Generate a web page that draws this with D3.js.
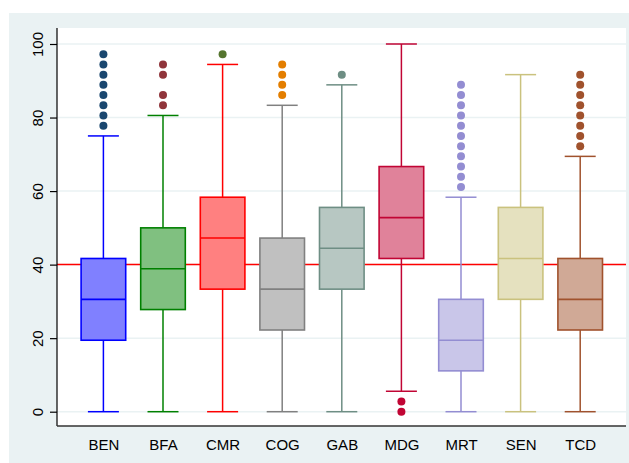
<!DOCTYPE html>
<html><head><meta charset="utf-8">
<script src="https://cdn.jsdelivr.net/npm/d3@7/dist/d3.min.js"></script>
<style>html,body{margin:0;padding:0;background:#fff;}svg{display:block;}</style>
</head><body>
<script>
const categories = ["BEN","BFA","CMR","COG","GAB","MDG","MRT","SEN","TCD"];
const whiskerLow  = [0, 0, 0, 0, 0, 5.56, 0, 0, 0];
const q1          = [19.44, 27.78, 33.33, 22.22, 33.33, 41.67, 11.11, 30.56, 22.22];
const median      = [30.56, 38.89, 47.22, 33.33, 44.44, 52.78, 19.44, 41.67, 30.56];
const q3          = [41.67, 50.00, 58.33, 47.22, 55.56, 66.67, 30.56, 55.56, 41.67];
const whiskerHigh = [75.00, 80.56, 94.44, 83.33, 88.89, 100, 58.33, 91.67, 69.44];
const outliers = [
  [77.78, 80.56, 83.33, 86.11, 88.89, 91.67, 94.44, 97.22],
  [83.33, 86.11, 91.67, 94.44],
  [97.22],
  [86.11, 88.89, 91.67, 94.44],
  [91.67],
  [0, 2.78],
  [61.11, 63.89, 66.67, 69.44, 72.22, 75.00, 77.78, 80.56, 83.33, 86.11, 88.89],
  [],
  [72.22, 75.00, 77.78, 80.56, 83.33, 86.11, 88.89, 91.67]
];
const yTicks = [0, 20, 40, 60, 80, 100];
const refLine = 40;

const lineColors = ["#0000FF","#008000","#FF0000","#808080","#6E8E84","#C10534","#938DD2","#CAC27E","#A0522D"];
const fillColors = ["#8080FF","#80C080","#FF8080","#C0C0C0","#B7C7C2","#E0829A","#C9C6E9","#E5E1BF","#D0A996"];
const markColors = ["#1A476F","#90353B","#55752F","#E37E00","#6E8E84","#C10534","#938DD2","#CAC27E","#A0522D"];

const W = 629, H = 463;
const plot = {l: 57, r: 626, t: 28, b: 426};
const svg = d3.select("body").append("svg").attr("width", W).attr("height", H);

svg.append("rect").attr("x", 9).attr("y", 13).attr("width", W - 9).attr("height", H - 13).attr("fill", "#EAF2F3");
svg.append("rect").attr("x", plot.l).attr("y", plot.t).attr("width", plot.r - plot.l).attr("height", plot.b - plot.t).attr("fill", "#FFFFFF");

const y = d3.scaleLinear().domain([0, 100]).range([411.7, 44]);
const x = d3.scalePoint().domain(categories).range([103.4, 580.2]);
const boxW = 44.6, capW = 31;

// grid
svg.append("g").selectAll("line").data(yTicks).join("line")
  .attr("x1", plot.l).attr("x2", plot.r)
  .attr("y1", d => y(d)).attr("y2", d => y(d))
  .attr("stroke", "#EAF2F3").attr("stroke-width", 1.5);

// reference line
svg.append("line").attr("x1", plot.l).attr("x2", plot.r)
  .attr("y1", y(refLine)).attr("y2", y(refLine))
  .attr("stroke", "#FF0000").attr("stroke-width", 1.5);

const data = categories.map((c, i) => ({c, i, lo: whiskerLow[i], q1: q1[i], md: median[i], q3: q3[i], hi: whiskerHigh[i], out: outliers[i]}));
const g = svg.append("g").selectAll("g").data(data).join("g");

// whiskers
g.append("line").attr("x1", d => x(d.c)).attr("x2", d => x(d.c))
  .attr("y1", d => y(d.q3)).attr("y2", d => y(d.hi))
  .attr("stroke", d => lineColors[d.i]).attr("stroke-width", 1.5);
g.append("line").attr("x1", d => x(d.c)).attr("x2", d => x(d.c))
  .attr("y1", d => y(d.q1)).attr("y2", d => y(d.lo))
  .attr("stroke", d => lineColors[d.i]).attr("stroke-width", 1.5);
// caps
g.append("line").attr("x1", d => x(d.c) - capW / 2).attr("x2", d => x(d.c) + capW / 2)
  .attr("y1", d => y(d.hi)).attr("y2", d => y(d.hi))
  .attr("stroke", d => lineColors[d.i]).attr("stroke-width", 1.5);
g.append("line").attr("x1", d => x(d.c) - capW / 2).attr("x2", d => x(d.c) + capW / 2)
  .attr("y1", d => y(d.lo)).attr("y2", d => y(d.lo))
  .attr("stroke", d => lineColors[d.i]).attr("stroke-width", 1.5);
// boxes
g.append("rect").attr("x", d => x(d.c) - boxW / 2).attr("width", boxW)
  .attr("y", d => y(d.q3)).attr("height", d => y(d.q1) - y(d.q3))
  .attr("fill", d => fillColors[d.i]).attr("stroke", d => lineColors[d.i]).attr("stroke-width", 1.6);
g.append("line").attr("x1", d => x(d.c) - boxW / 2).attr("x2", d => x(d.c) + boxW / 2)
  .attr("y1", d => y(d.md)).attr("y2", d => y(d.md))
  .attr("stroke", d => lineColors[d.i]).attr("stroke-width", 1.6);
// outliers
g.selectAll("circle").data(d => d.out.map(v => ({v, c: d.c, i: d.i}))).join("circle")
  .attr("cx", d => x(d.c)).attr("cy", d => y(d.v)).attr("r", 4)
  .attr("fill", d => markColors[d.i]);

// axes
const yAxis = svg.append("g").attr("transform", `translate(${plot.l},0)`)
  .call(d3.axisLeft(y).tickValues(yTicks).tickSize(7).tickPadding(0).tickFormat(d3.format("d")));
yAxis.select(".domain").attr("d", `M0,${plot.t}V${plot.b}`).attr("stroke", "#000").attr("stroke-width", 1.2);
yAxis.selectAll(".tick line").attr("stroke", "#000").attr("stroke-width", 1.2);
yAxis.selectAll(".tick text")
  .attr("x", null).attr("dy", null).attr("text-anchor", "middle")
  .attr("transform", "translate(-14,0) rotate(-90)")
  .attr("font-family", "Liberation Sans, Arial, sans-serif").attr("font-size", 15).attr("fill", "#000");

const xAxis = svg.append("g").attr("transform", `translate(0,${plot.b})`)
  .call(d3.axisBottom(x).tickSize(0).tickPadding(0));
xAxis.select(".domain").attr("d", `M${plot.l},0H${plot.r}`).attr("stroke", "#333").attr("stroke-width", 1.4);
xAxis.selectAll(".tick text").attr("y", 24).attr("dy", null)
  .attr("font-family", "Liberation Sans, Arial, sans-serif").attr("font-size", 15).attr("fill", "#000");
</script>
</body></html>
